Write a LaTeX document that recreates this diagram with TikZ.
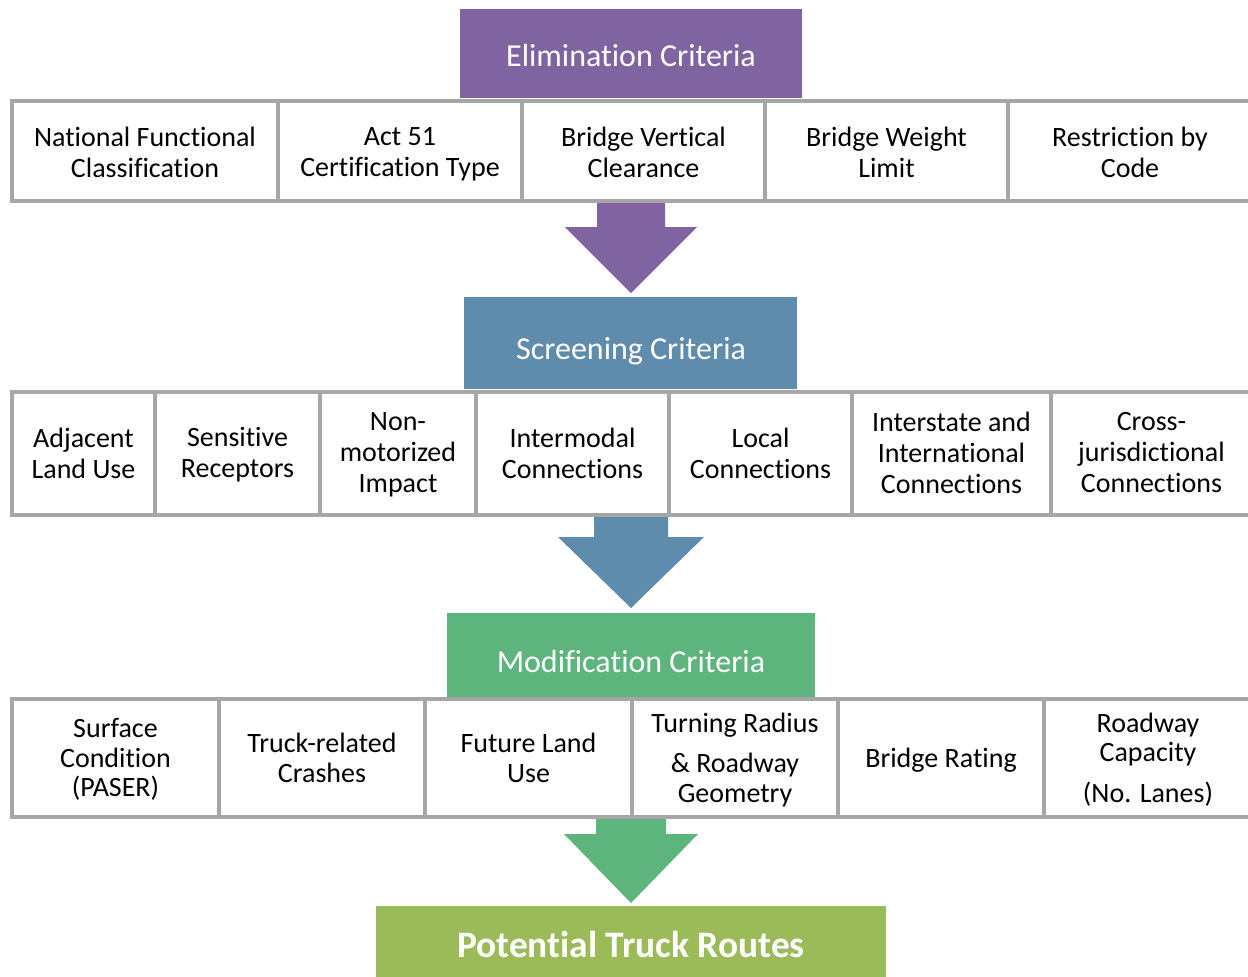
\documentclass[tikz,border=0pt]{standalone}
\usepackage{fontspec}
\setmainfont{Carlito}[Ligatures=NoCommon]
\usetikzlibrary{calc}
\definecolor{elimcol}{HTML}{8064A2}
\definecolor{screencol}{HTML}{5F8BAD}
\definecolor{modcol}{HTML}{5DB47D}
\definecolor{routecol}{HTML}{9BBB59}
\definecolor{cellgray}{HTML}{A6A6A6}
% vertical offset of the text inside a cell and its line spacing
\newcommand\cellshift{-3pt}
\newcommand\cellskip{15.5pt}
% one bordered criterion cell with its label: name, x1, y1, x2, y2, text
\newcommand\critcell[6]{%
  \node[cell, minimum width={(#4-#2)*0.5pt}, minimum height={(#5-#3)*0.5pt}] (#1) at (#2,#3) {};
  \node[celltext, yshift=\cellshift] (#1-text) at (#1.center) {#6};}
% block arrow: start coordinate, neck depth, tip depth, shaft half width, head half width, colour
\newcommand\blockarrow[6]{%
  \fill[#6] (#1) ++(-#4,0) -- ++(0,#2) -- ++(-#5+#4,0) -- ($(#1)+(0,#3)$) -- ++(#5,-#3+#2) -- ++(-#5+#4,0) -- ($(#1)+(#4,0)$) -- cycle;}
\begin{document}
\begin{tikzpicture}[x=0.5pt,y=-0.5pt,
  cell/.style={draw=cellgray, line width=2pt, fill=white, anchor=north west,
    inner sep=0pt, outer sep=0pt},
  celltext/.style={inner sep=0pt, align=center, text=black,
    font=\fontsize{14}{\cellskip}\selectfont,
    execute at begin node=\strut, execute at end node=\strut},
  header/.style={anchor=north west, inner sep=0pt, outer sep=0pt},
  headtext/.style={text=white, font=\fontsize{16}{19}\selectfont},
  finaltext/.style={text=white, font=\fontsize{18.7}{22}\selectfont\bfseries}]
\useasboundingbox (0,0) rectangle (1248,976);

% coloured stage headers
\node[header, fill=elimcol, minimum width=171pt, minimum height=44.5pt] (elim) at (460,9) {};
\node[headtext] (elimtxt) at (631,56) {Elimination Criteria};
\node[header, fill=screencol, minimum width=166.5pt, minimum height=46pt] (screen) at (464,297) {};
\node[headtext] (screentxt) at (631,351) {Screening Criteria};
\node[header, fill=modcol, minimum width=184pt, minimum height=42pt] (modif) at (447,613) {};
\node[headtext] (modiftxt) at (631,661) {Modification Criteria};
\node[header, fill=routecol, minimum width=255pt, minimum height=36pt] (routes) at (376,906) {};
\node[finaltext] (routestxt) at (631,944) {Potential Truck Routes};

% downward block arrows between the stages
\coordinate (arrA) at (631,200);
\coordinate (arrB) at (631,513);
\coordinate (arrC) at (631,814);
\blockarrow{arrA}{27}{93}{34}{66}{elimcol}
\blockarrow{arrB}{24}{95}{37}{73}{screencol}
\blockarrow{arrC}{20}{89}{35}{67}{modcol}

% elimination criteria
\critcell{e1}{12}{101}{278}{201}{National Functional\\Classification}
\critcell{e2}{278}{101}{522}{201}{Act 51\\Certification Type}
\critcell{e3}{522}{101}{765}{201}{Bridge Vertical\\Clearance}
\critcell{e4}{765}{101}{1008}{201}{Bridge Weight\\Limit}
\critcell{e5}{1008}{101}{1252}{201}{Restriction by\\Code}

% screening criteria
\renewcommand\cellshift{-2pt}
\critcell{s1}{12}{392}{155}{515}{Adjacent\\Land Use}
\critcell{s2}{155}{392}{320}{515}{Sensitive\\Receptors}
\critcell{s3}{320}{392}{476}{515}{Non-\\motorized\\Impact}
\critcell{s4}{476}{392}{669}{515}{Intermodal\\Connections}
\critcell{s5}{669}{392}{852}{515}{Local\\Connections}
\critcell{s6}{852}{392}{1051}{515}{Interstate and\\International\\Connections}
\critcell{s7}{1051}{392}{1252}{515}{Cross-\\jurisdictional\\Connections}

% modification criteria
\renewcommand\cellskip{14.75pt}
\critcell{m1}{12}{699}{219}{817}{Surface\\Condition\\(PASER)}
\critcell{m2}{219}{699}{425}{817}{Truck-related\\Crashes}
\critcell{m3}{425}{699}{632}{817}{Future Land\\Use}
\critcell{m4}{632}{699}{838}{817}{Turning Radius\\[5.5pt]\& Roadway\\Geometry}
\critcell{m5}{838}{699}{1044}{817}{Bridge Rating}
\critcell{m6}{1044}{699}{1252}{817}{Roadway\\Capacity\\[5.5pt](No. Lanes)}
\end{tikzpicture}
\end{document}
